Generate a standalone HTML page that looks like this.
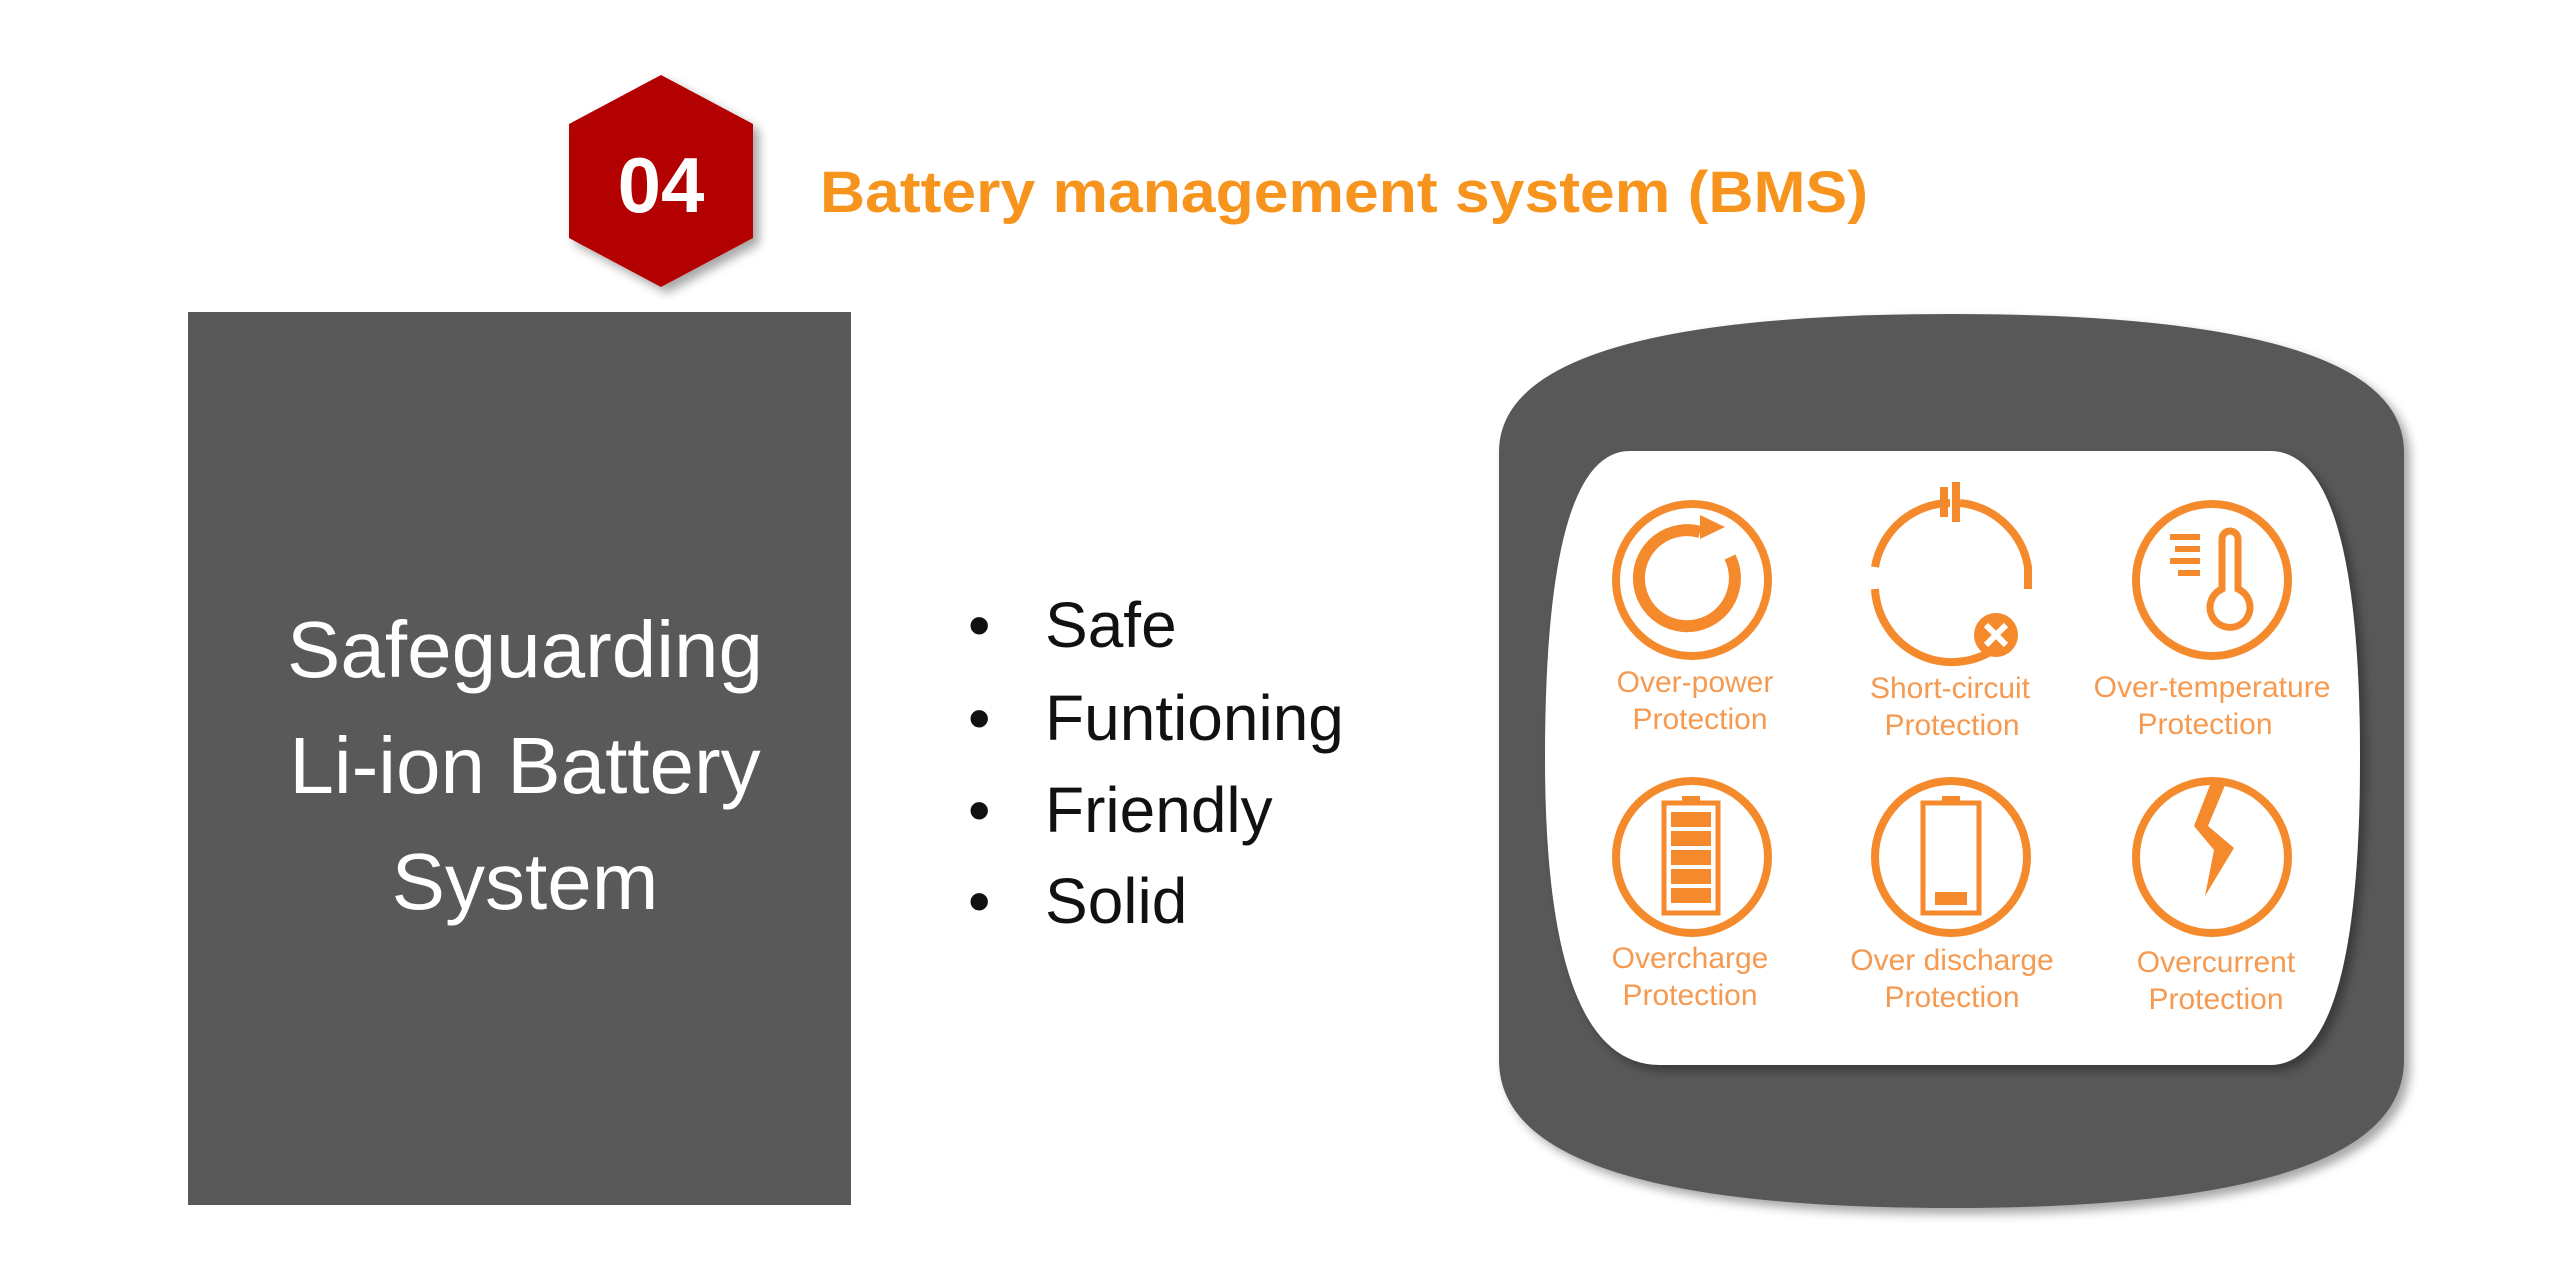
<!DOCTYPE html>
<html><head><meta charset="utf-8"><style>
html,body{margin:0;padding:0;background:#fff;}
body{width:2560px;height:1264px;position:relative;overflow:hidden;font-family:"Liberation Sans",sans-serif;}
</style></head><body>
<svg width="2560" height="1264" style="position:absolute;left:0;top:0">
<defs>
<filter id="sh" x="-10%" y="-10%" width="120%" height="120%"><feDropShadow dx="6" dy="6" stdDeviation="5" flood-color="#000" flood-opacity="0.35"/></filter>
</defs>
<polygon points="661,75 753,124 753,238 661,287 569,238 569,124" fill="#b30006" filter="url(#sh)"/>
<text x="661" y="212" text-anchor="middle" font-family="Liberation Sans" font-weight="bold" font-size="78" fill="#fff">04</text>
<text x="820" y="212" font-family="Liberation Sans" font-weight="bold" font-size="58" fill="#f7941d" textLength="1048" lengthAdjust="spacingAndGlyphs">Battery management system (BMS)</text>
<rect x="188" y="312" width="663" height="893" fill="#595959"/>
<path d="M1499,452 Q1499,314 1951,314 Q2404,314 2404,452 L2404,1060 Q2404,1208 1951,1208 Q1499,1208 1499,1060 Z" fill="#595959" filter="url(#sh)"/>
<path d="M1630,451 L2270,451 Q2360,451 2360,758 Q2360,1065 2270,1065 L1660,1065 Q1545,1065 1545,758 Q1545,451 1630,451 Z" fill="#fff" filter="url(#sh)"/>
<g transform="translate(0,-33)">
<g fill="none" stroke="#f58a2c" stroke-width="8">
<circle cx="1692" cy="613" r="76"/>
<path d="M1730,590 A48,48 0 1 1 1700,565" stroke-width="12"/>
<path d="M1950,536 A77,77 0 0 0 1875,600 M1875,622 A77,77 0 0 0 1990,685 M2028,622 L2028,600 A77,77 0 0 0 1960,536"/>
<path d="M1944,520 v30 M1956,515 v40"/>
<circle cx="2212" cy="613" r="76"/>
<path d="M2222,572 v50 a20,20 0 1 0 16,0 v-50 a8,8 0 0 0 -16,0 Z" stroke-width="7"/>
<path d="M2170,570 h30 M2175,582 h25 M2170,594 h30 M2178,606 h22" stroke-width="6"/>
</g>
<g fill="#f58a2c">
<polygon points="1700,548 1725,560 1700,572"/>
<circle cx="1996" cy="668" r="22"/>
</g>
<path d="M1986,658 l20,20 M2006,658 l-20,20" stroke="#fff" stroke-width="6"/>
</g>
<g transform="translate(0,-72)">
<g fill="none" stroke="#f58a2c" stroke-width="8">
<circle cx="1692" cy="929" r="76"/>
<rect x="1664" y="875" width="54" height="110" stroke-width="5"/>
<circle cx="1951" cy="929" r="76"/>
<rect x="1923" y="875" width="56" height="110" stroke-width="5"/>
<circle cx="2212" cy="929" r="76"/>
</g>
<g fill="#f58a2c">
<rect x="1682" y="868" width="18" height="7"/><rect x="1942" y="868" width="18" height="7"/>
<rect x="1671" y="884" width="40" height="15"/><rect x="1671" y="903" width="40" height="15"/><rect x="1671" y="922" width="40" height="15"/><rect x="1671" y="941" width="40" height="15"/><rect x="1671" y="960" width="40" height="15"/>
<rect x="1935" y="964" width="32" height="13"/>
<polygon points="2212,852 2226,855 2208,898 2234,920 2205,968 2214,922 2194,898"/>
</g>
</g>
<g font-family="Liberation Sans" font-size="30" fill="#f59a50" text-anchor="middle">
<text x="1695" y="692">Over-power</text><text x="1700" y="729">Protection</text>
<text x="1950" y="698">Short-circuit</text><text x="1952" y="735">Protection</text>
<text x="2212" y="697">Over-temperature</text><text x="2205" y="734">Protection</text>
<text x="1690" y="968">Overcharge</text><text x="1690" y="1005">Protection</text>
<text x="1952" y="970">Over discharge</text><text x="1952" y="1007">Protection</text>
<text x="2216" y="972">Overcurrent</text><text x="2216" y="1009">Protection</text>
</g>
<g font-family="Liberation Sans" font-size="80" fill="#fff" text-anchor="middle">
<text x="525" y="677">Safeguarding</text>
<text x="525" y="793">Li-ion Battery</text>
<text x="525" y="909">System</text>
</g>
<g font-family="Liberation Sans" font-size="64" fill="#111">
<text x="968" y="647">•</text><text x="1045" y="647">Safe</text>
<text x="968" y="740">•</text><text x="1045" y="740">Funtioning</text>
<text x="968" y="832">•</text><text x="1045" y="832">Friendly</text>
<text x="968" y="923">•</text><text x="1045" y="923">Solid</text>
</g>
</svg>
</body></html>
